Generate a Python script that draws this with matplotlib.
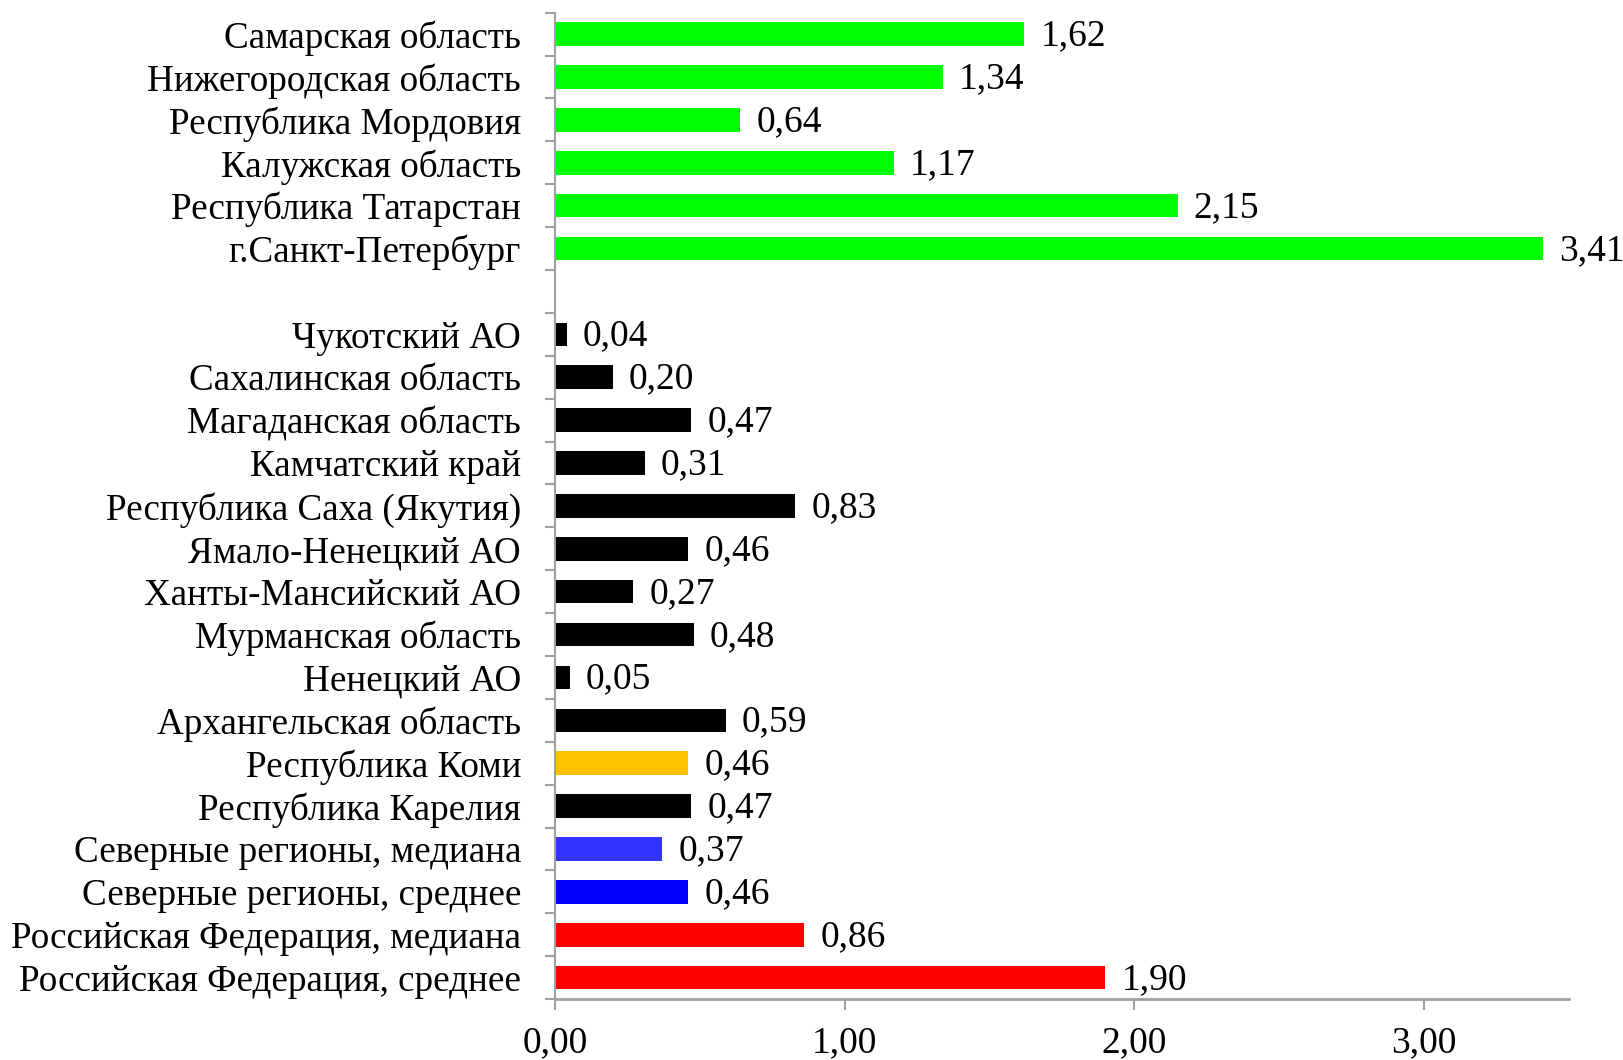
import matplotlib
matplotlib.use("Agg")
import matplotlib.pyplot as plt
import numpy as np

# Data listed top to bottom ('' marks the empty gap row)
categories = [
    "Самарская область", "Нижегородская область", "Республика Мордовия",
    "Калужская область", "Республика Татарстан", "г.Санкт-Петербург",
    "",
    "Чукотский АО", "Сахалинская область", "Магаданская область",
    "Камчатский край", "Республика Саха (Якутия)", "Ямало-Ненецкий АО",
    "Ханты-Мансийский АО", "Мурманская область", "Ненецкий АО",
    "Архангельская область", "Республика Коми", "Республика Карелия",
    "Северные регионы, медиана", "Северные регионы, среднее",
    "Российская Федерация, медиана", "Российская Федерация, среднее",
]
values = [1.62, 1.34, 0.64, 1.17, 2.15, 3.41,
          None,
          0.04, 0.20, 0.47, 0.31, 0.83, 0.46, 0.27, 0.48, 0.05, 0.59,
          0.46, 0.47, 0.37, 0.46, 0.86, 1.90]
colors = ["#00FF00"] * 6 + [None] + ["#000000"] * 10 + ["#FFC000", "#000000",
          "#3333FF", "#0000FF", "#FF0000", "#FF0000"]
x_ticks = [0, 1, 2, 3]

plt.rcParams['font.family'] = ['Liberation Serif', 'DejaVu Serif']

fig = plt.figure(figsize=(16.24, 10.60), dpi=100)
ax = fig.add_axes([0.3418, 0.0575, 0.966 - 0.3418, 0.988 - 0.0575])

n = len(categories)
ypos = np.arange(n)[::-1]  # top row highest
for y, v, c in zip(ypos, values, colors):
    if v is None:
        continue
    ax.barh(y, v, height=0.55, color=c)
    ax.annotate(f"{v:.2f}".replace(".", ","), (v, y), xytext=(16, -2),
                textcoords="offset pixels", va="center", ha="left", fontsize=27)

ax.set_ylim(-0.5, n - 0.5)
ax.set_xlim(0, 3.5)

ax.set_yticks(ypos)
ax.set_yticklabels(categories, fontsize=26.7)
ax.tick_params(axis='y', which='major', length=0, pad=24.5)
ax.set_yticks(np.arange(-0.5, n, 1.0), minor=True)
ax.tick_params(axis='y', which='minor', length=7, width=1.5, color="#A0A0A0", direction='out')

ax.set_xticks(x_ticks)
ax.set_xticklabels([f"{t:.2f}".replace(".", ",") for t in x_ticks], fontsize=27)
ax.tick_params(axis='x', length=8, width=1.5, color="#A0A0A0", pad=11)

for s in ["top", "right"]:
    ax.spines[s].set_visible(False)
ax.spines["left"].set_color("#A0A0A0")
ax.spines["left"].set_linewidth(1.5)
ax.spines["bottom"].set_color("#A0A0A0")
ax.spines["bottom"].set_linewidth(2)

fig.savefig("out.png", dpi=100)
